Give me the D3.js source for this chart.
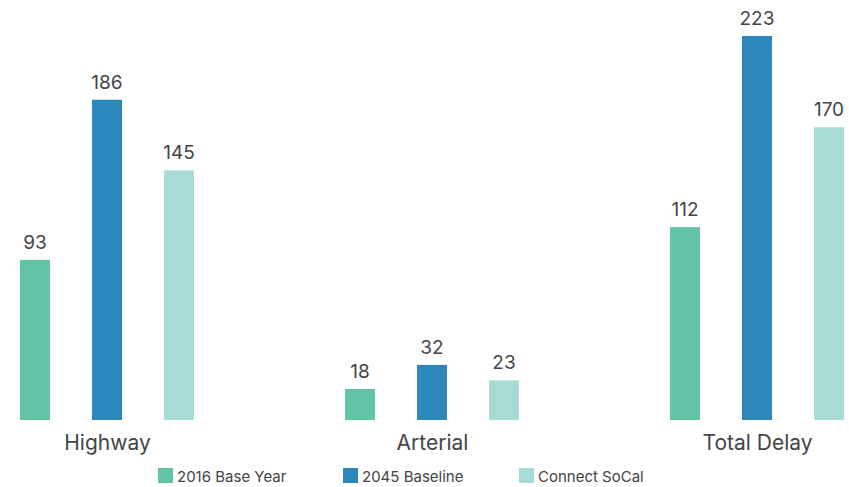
<!DOCTYPE html>
<html><head><meta charset="utf-8">
<script src="https://cdn.jsdelivr.net/npm/d3@7"></script>
<style>body{margin:0;background:#fff}text{font-family:Inter,"Open Sans",sans-serif;fill:#444}</style>
</head><body><svg id="c" width="849" height="487"></svg>
<script>
const categories = ["Highway", "Arterial", "Total Delay"];
const series = ["2016 Base Year", "2045 Baseline", "Connect SoCal"];
const values2016 = [93, 18, 112];
const values2045 = [186, 32, 223];
const valuesConnect = [145, 23, 170];
const colors = ["#62C4A7", "#2D87BB", "#A8DBD5"];

const data = [values2016, values2045, valuesConnect];
const svg = d3.select("#c");
const x0 = d3.scalePoint().domain(categories).range([107, 757]);
const x1 = d3.scalePoint().domain(series).range([-72, 72]);
const y = d3.scaleLinear().domain([0, 223]).range([420, 36]);
const bw = 30;

series.forEach((s, si) => {
  const g = svg.append("g");
  g.selectAll("rect").data(categories).join("rect")
    .attr("x", c => x0(c) + x1(s) - bw / 2)
    .attr("y", (c, i) => y(data[si][i]))
    .attr("width", bw)
    .attr("height", (c, i) => y(0) - y(data[si][i]))
    .attr("fill", colors[si]);
  g.selectAll("text").data(categories).join("text")
    .attr("x", c => x0(c) + x1(s))
    .attr("y", (c, i) => y(data[si][i]) - 11)
    .attr("text-anchor", "middle")
    .style("font-size", "19px")
    .text((c, i) => data[si][i]);
});

const xAxis = d3.axisBottom(x0).tickSize(0).tickPadding(0);
const ax = svg.append("g").attr("transform", "translate(0,432)").call(xAxis);
ax.select(".domain").remove();
ax.selectAll("text").attr("dy", "0.85em").style("font-size", "21px").style("fill", "#444").style("font-family", "Inter,'Open Sans',sans-serif");

const legX = [158, 343, 519];
const leg = svg.append("g");
series.forEach((s, i) => {
  leg.append("rect").attr("x", legX[i]).attr("y", 468).attr("width", 15).attr("height", 15).attr("fill", colors[i]);
  leg.append("text").attr("x", legX[i] + 19).attr("y", 482).style("font-size", "15px").text(s);
});
</script></body></html>
